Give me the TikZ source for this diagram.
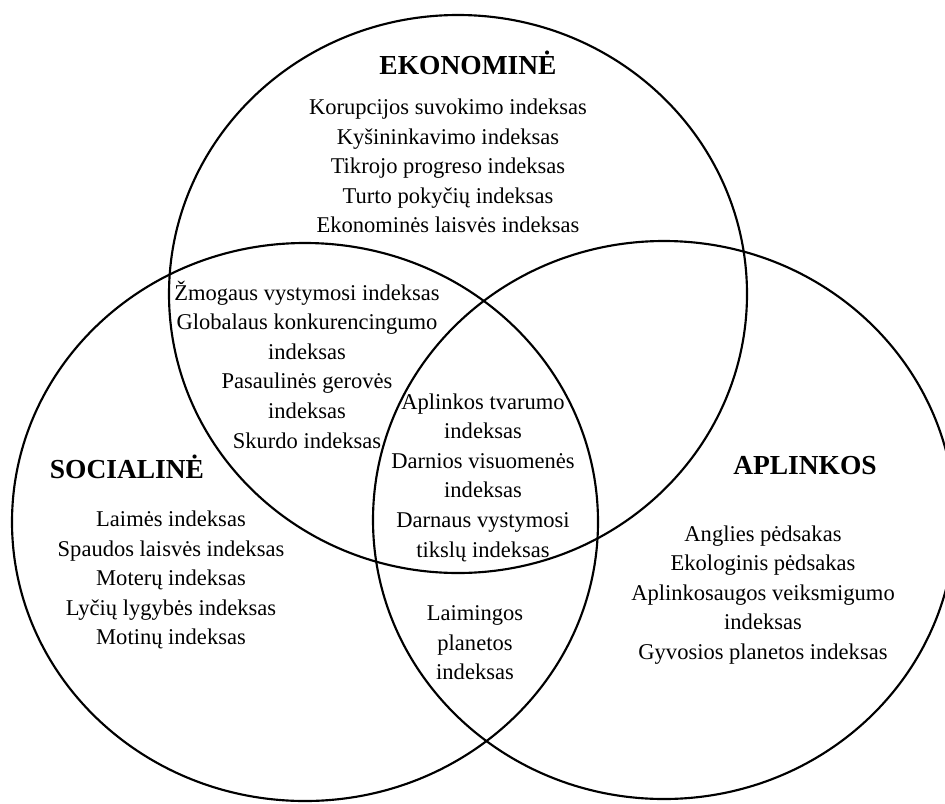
\documentclass[tikz,border=0pt]{standalone}
\usepackage{fontspec}
\setmainfont{Liberation Serif}
\begin{document}
\begin{tikzpicture}[x=0.75pt,y=-0.75pt,
  setring/.style={line width=1.6pt},
  heading/.style={font=\fontsize{20.6}{24}\selectfont\bfseries, inner sep=0pt},
  items/.style={font=\fontsize{16.9}{22.2}\selectfont, align=center, inner sep=0pt}]
\useasboundingbox (0,0) rectangle (945,803);
\clip (0,0) rectangle (945,803);

% the three sets
\draw[setring] (458,294) ellipse [x radius=216.75pt, y radius=209.25pt];
\draw[setring] (305,522) ellipse [x radius=219.75pt, y radius=209.25pt];
\draw[setring] (664,520) ellipse [x radius=218.25pt, y radius=209.25pt];

% set titles
\node[heading] (econT) at (468,63) {EKONOMINĖ};
\node[heading] (socT)  at (127,467) {SOCIALINĖ};
\node[heading] (envT)  at (805,466) {APLINKOS};

% economic only
\node[items] (econ) at (448,166) {Korupcijos suvokimo indeksas\\
  Kyšininkavimo indeksas\\ Tikrojo progreso indeksas\\
  Turto pokyčių indeksas\\ Ekonominės laisvės indeksas};

% economic and social
\node[items] (econsoc) at (307,364.5) {Žmogaus vystymosi indeksas\\
  Globalaus konkurencingumo\\ indeksas\\ Pasaulinės gerovės\\
  indeksas\\ Skurdo indeksas};

% all three
\node[items] (all) at (483,477.5) {Aplinkos tvarumo\\ indeksas\\
  Darnios visuomenės\\ indeksas\\ Darnaus vystymosi\\ tikslų indeksas};

% social and environmental
\node[items] (socenv) at (475,643) {Laimingos\\ planetos\\ indeksas};

% social only
\node[items] (soc) at (171,580) {Laimės indeksas\\
  Spaudos laisvės indeksas\\ Moterų indeksas\\
  Lyčių lygybės indeksas\\ Motinų indeksas};

% environmental only
\node[items] (env) at (763,595) {Anglies pėdsakas\\ Ekologinis pėdsakas\\
  Aplinkosaugos veiksmigumo\\ indeksas\\ Gyvosios planetos indeksas};
\end{tikzpicture}
\end{document}
